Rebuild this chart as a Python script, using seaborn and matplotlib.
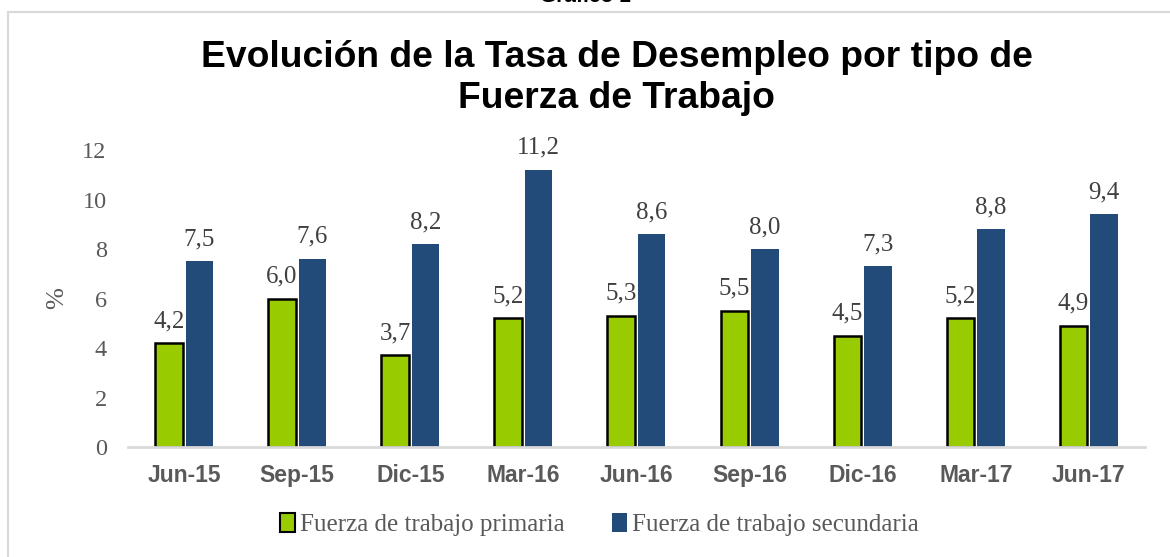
import pandas as pd
import seaborn as sns
import matplotlib.pyplot as plt
from matplotlib.patches import Rectangle, Patch

# Data
periodos = ["Jun-15", "Sep-15", "Dic-15", "Mar-16", "Jun-16", "Sep-16", "Dic-16", "Mar-17", "Jun-17"]
primaria = [4.2, 6.0, 3.7, 5.2, 5.3, 5.5, 4.5, 5.2, 4.9]
secundaria = [7.5, 7.6, 8.2, 11.2, 8.6, 8.0, 7.3, 8.8, 9.4]
series = ["Fuerza de trabajo primaria", "Fuerza de trabajo secundaria"]
colores = ["#99CC00", "#234B79"]

df = pd.DataFrame({
    "periodo": periodos * 2,
    "valor": primaria + secundaria,
    "serie": [series[0]] * len(periodos) + [series[1]] * len(periodos),
})

sns.set_theme(style="white")
plt.rcParams["font.family"] = ["Liberation Serif", "DejaVu Serif"]

fig = plt.figure(figsize=(11.7, 5.57), dpi=100)
ax = fig.add_axes([0.109, 0.1975, 0.870, 0.533])

sns.barplot(data=df, x="periodo", y="valor", hue="serie", palette=colores,
            width=0.54, gap=0.1, ax=ax, legend=False, saturation=1)

# green bars get a black outline
for p in ax.containers[0]:
    p.set_edgecolor("black")
    p.set_linewidth(1.8)
for p in ax.containers[1]:
    p.set_linewidth(0)

for cont, vals in zip(ax.containers, [primaria, secundaria]):
    ax.bar_label(cont, labels=[f"{v:.1f}".replace(".", ",") for v in vals],
                 padding=8, fontsize=18, color="#404040")

ax.set_ylim(0, 12)
ax.set_yticks(range(0, 13, 2))
ax.tick_params(axis="y", labelsize=17.5, labelcolor="#595959", length=0, pad=15)
ax.tick_params(axis="x", length=0, pad=12)
for lbl in ax.get_xticklabels():
    lbl.set_fontfamily("Liberation Sans")
    lbl.set_fontweight("bold")
    lbl.set_fontsize(16.5)
    lbl.set_color("#595959")
ax.set_xlabel("")
ax.set_ylabel("%", fontsize=19, color="#595959", labelpad=10)

for s in ["top", "right", "left"]:
    ax.spines[s].set_visible(False)
ax.spines["bottom"].set_color("#D9D9D9")
ax.spines["bottom"].set_linewidth(2)

fig.text(0.527, 0.860, "Evolución de la Tasa de Desempleo por tipo de\nFuerza de Trabajo",
         ha="center", va="center", fontsize=26.8, fontweight="bold",
         family="Liberation Sans", linespacing=1.25, color="black")

# caption at the very top, cut by the page edge as in the source
fig.text(0.5, 1.006, "Gráfico 1", ha="center", va="center", fontsize=15,
         fontweight="bold", family="Liberation Sans", color="black")

# outer chart frame
fig.add_artist(Rectangle((8 / 1170, -0.05), 1.2, 1 - 12 / 557 + 0.05,
                         transform=fig.transFigure, fill=False,
                         edgecolor="#D9D9D9", linewidth=1.5))

handles = [Patch(facecolor=colores[0], edgecolor="black", linewidth=1.5),
           Patch(facecolor=colores[1], edgecolor="none")]
fig.legend(handles, series, loc="center", bbox_to_anchor=(0.512, 0.058), ncol=2,
           frameon=False, fontsize=18, handlelength=0.6, handleheight=0.8,
           handletextpad=0.2, columnspacing=1.9, labelcolor="#595959")

fig.savefig("out.png", dpi=100)
